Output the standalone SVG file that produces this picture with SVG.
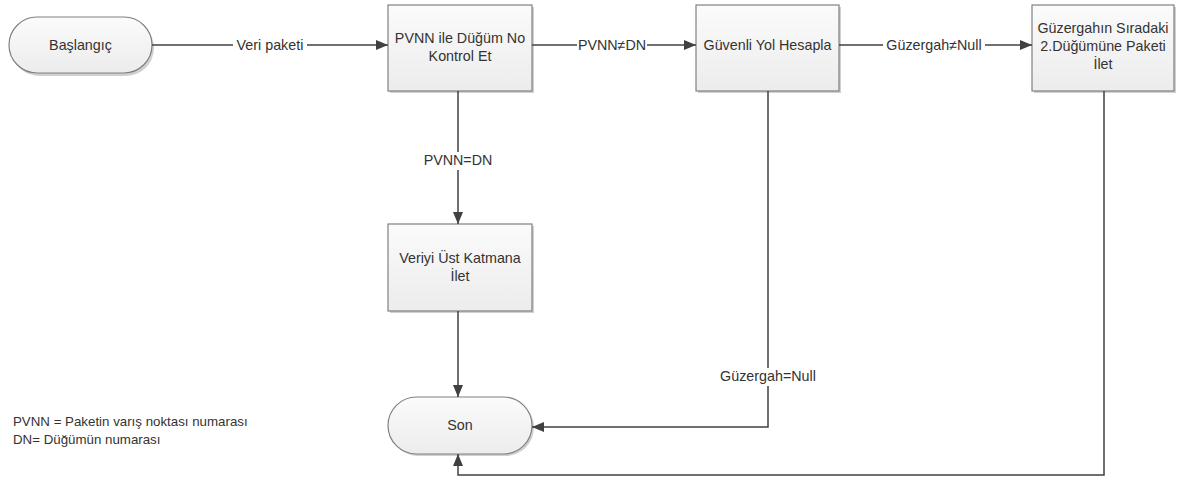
<svg xmlns="http://www.w3.org/2000/svg" width="1184" height="480" viewBox="0 0 1184 480">
  <defs>
    <linearGradient id="g" x1="0" y1="0" x2="0" y2="1">
      <stop offset="0" stop-color="#fbfbfb"/>
      <stop offset="1" stop-color="#ececec"/>
    </linearGradient>
    <marker id="ah" viewBox="0 0 12 10" refX="12" refY="5" markerWidth="12" markerHeight="10" markerUnits="userSpaceOnUse" orient="auto">
      <path d="M0,0 L12,5 L0,10 Z" fill="#404040"/>
    </marker>
  </defs>
  <style>
    .box { fill: url(#g); stroke: #808080; stroke-width: 1.2; }
    .sh { fill: #d0d0d0; }
    .t { font-family: "Liberation Sans", Arial, sans-serif; font-size: 14.3px; fill: #333333; text-anchor: middle; }
    .lt { font-family: "Liberation Sans", Arial, sans-serif; font-size: 13.3px; fill: #333333; }
    .c { fill: none; stroke: #404040; stroke-width: 1.5; }
    .lbl { fill: #ffffff; }
  </style>

  <g id="baslangic">
    <rect class="sh" x="11" y="20" width="143" height="56" rx="28" ry="28"/>
    <rect class="box" x="9" y="17" width="143" height="56" rx="28" ry="28"/>
    <text class="t" x="80.5" y="50">Başlangıç</text>
  </g>

  <g id="kontrol">
    <rect class="sh" x="390" y="7" width="144" height="86"/>
    <rect class="box" x="388" y="5" width="144" height="86"/>
    <text class="t" x="460" y="43">PVNN ile Düğüm No</text>
    <text class="t" x="460" y="61">Kontrol Et</text>
  </g>

  <g id="guvenli">
    <rect class="sh" x="698" y="7" width="143" height="86"/>
    <rect class="box" x="696" y="5" width="143" height="86"/>
    <text class="t" x="767.5" y="50">Güvenli Yol Hesapla</text>
  </g>

  <g id="ilet">
    <rect class="sh" x="1034" y="7" width="142" height="86"/>
    <rect class="box" x="1032" y="5" width="142" height="86"/>
    <text class="t" x="1103" y="33">Güzergahın Sıradaki</text>
    <text class="t" x="1103" y="51">2.Düğümüne Paketi</text>
    <text class="t" x="1103" y="69">İlet</text>
  </g>

  <g id="veriyi">
    <rect class="sh" x="390" y="226" width="144" height="87"/>
    <rect class="box" x="388" y="224" width="144" height="87"/>
    <text class="t" x="460" y="263">Veriyi Üst Katmana</text>
    <text class="t" x="460" y="281">İlet</text>
  </g>

  <g id="son">
    <rect class="sh" x="390" y="399" width="144" height="57" rx="28.5" ry="28.5"/>
    <rect class="box" x="388" y="397" width="144" height="57" rx="28.5" ry="28.5"/>
    <text class="t" x="460" y="430">Son</text>
  </g>

  <g id="connectors">
    <path class="c" d="M152,45 L388,45" marker-end="url(#ah)"/>
    <path class="c" d="M532,45 L696,45" marker-end="url(#ah)"/>
    <path class="c" d="M839,45 L1032,45" marker-end="url(#ah)"/>
    <path class="c" d="M458,91 L458,224" marker-end="url(#ah)"/>
    <path class="c" d="M458,311 L458,397" marker-end="url(#ah)"/>
    <path class="c" d="M768,91 L768,427 L532,427" marker-end="url(#ah)"/>
    <path class="c" d="M1104,91 L1104,475 L458,475 L458,454" marker-end="url(#ah)"/>

    <rect class="lbl" x="233" y="36" width="74" height="18"/>
    <text class="t" x="270" y="50">Veri paketi</text>
    <rect class="lbl" x="577" y="36" width="70" height="18"/>
    <text class="t" x="612" y="50">PVNN≠DN</text>
    <rect class="lbl" x="883" y="36" width="102" height="18"/>
    <text class="t" x="934" y="50">Güzergah≠Null</text>
    <rect class="lbl" x="422" y="152" width="72" height="18"/>
    <text class="t" x="458" y="165">PVNN=DN</text>
    <rect class="lbl" x="715" y="368" width="106" height="18"/>
    <text class="t" x="768" y="381">Güzergah=Null</text>
  </g>

  <g id="legend">
    <text class="lt" x="13" y="426">PVNN = Paketin varış noktası numarası</text>
    <text class="lt" x="13" y="444">DN= Düğümün numarası</text>
  </g>
</svg>
